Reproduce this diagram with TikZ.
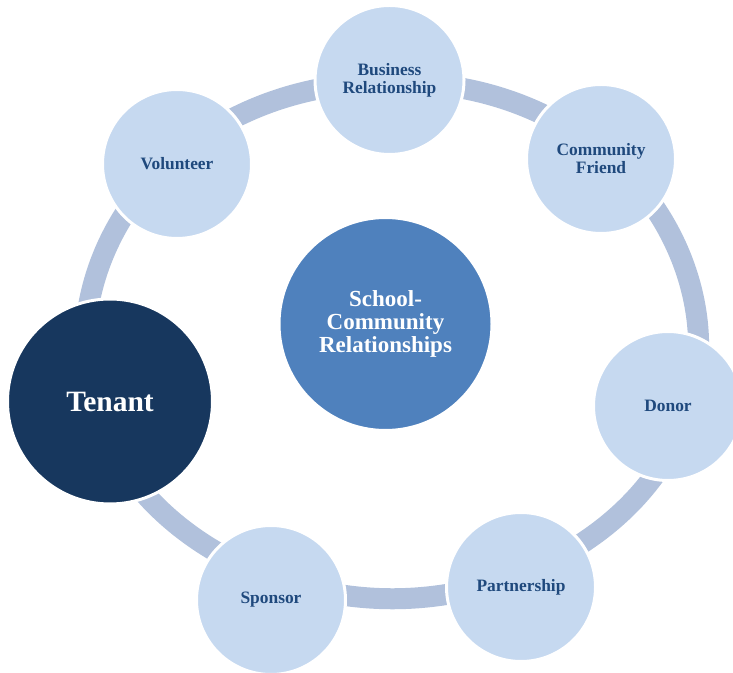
\documentclass[tikz,border=0pt]{standalone}
\usepackage{fontspec}
\setmainfont{Liberation Serif}
\definecolor{ringblue}{HTML}{B1C1DC}
\definecolor{itemblue}{HTML}{C6D9F0}
\definecolor{textblue}{HTML}{1F497D}
\definecolor{hubblue}{HTML}{4F81BD}
\definecolor{tenantblue}{HTML}{17375E}
\begin{document}
\begin{tikzpicture}[
		x=1pt, y=1pt,
			ring/.style = {
				draw = ringblue,
				line width = 21pt,
				looseness = 0.9
			},
			item/.style = {
				circle,
				draw = white,
				line width = 3pt,
				fill = itemblue,
				text = textblue,
				minimum size = 149pt,
				inner sep = 0pt,
				align = center,
				font = \fontsize{17.4}{18}\selectfont\bfseries
			}
		]
		\useasboundingbox (0,0) rectangle (733,672);
		\clip (0,0) rectangle (733,672);
		% ring behind the circles
		\coordinate (ring) at (392,332);
		\foreach \name/\ang in {Bus/90.5, CF/46.1, Don/-15.9, Par/-66.4, Spo/-111.3, Ten/-165.4, Vol/135.7}
			\path (ring) ++(\ang:308 and 258) coordinate (\name-r);
		\foreach \src/\dst/\a/\b in {Bus/CF/90.5/46.1, CF/Don/46.1/-15.9, Don/Par/-15.9/-66.4, Par/Spo/-66.4/-111.3, Spo/Ten/-111.3/-165.4, Ten/Vol/-165.4/-224.3, Vol/Bus/135.7/90.5} {
			\pgfmathsetmacro\outang{atan2(-258*cos(\a), 308*sin(\a))}
			\pgfmathsetmacro\inang{atan2(258*cos(\b), -308*sin(\b))}
			\draw[ring] (\src-r) to[out=\outang, in=\inang] (\dst-r);
		}
		\node[item] (Bus) at (389.5,592) {Business\\Relationship};
		\node[item] (CF)  at (601,513)   {Community\\Friend};
		\node[item] (Don) at (668,266)   {Donor};
		\node[item] (Par) at (521,85)    {Partnership};
		\node[item] (Spo) at (271,72)    {Sponsor};
		\node[item] (Vol) at (177,508)   {Volunteer};
		\node[item, fill=tenantblue, text=white, minimum size=205pt,
			font=\fontsize{29.5}{31}\selectfont\bfseries] (Ten) at (110,270.5) {Tenant};
		\node[item, fill=hubblue, text=white, minimum size=213pt,
			font=\fontsize{23}{23}\selectfont\bfseries] (SCR) at (385.5,348) {School-\\Community\\Relationships};
	\end{tikzpicture}
\end{document}
